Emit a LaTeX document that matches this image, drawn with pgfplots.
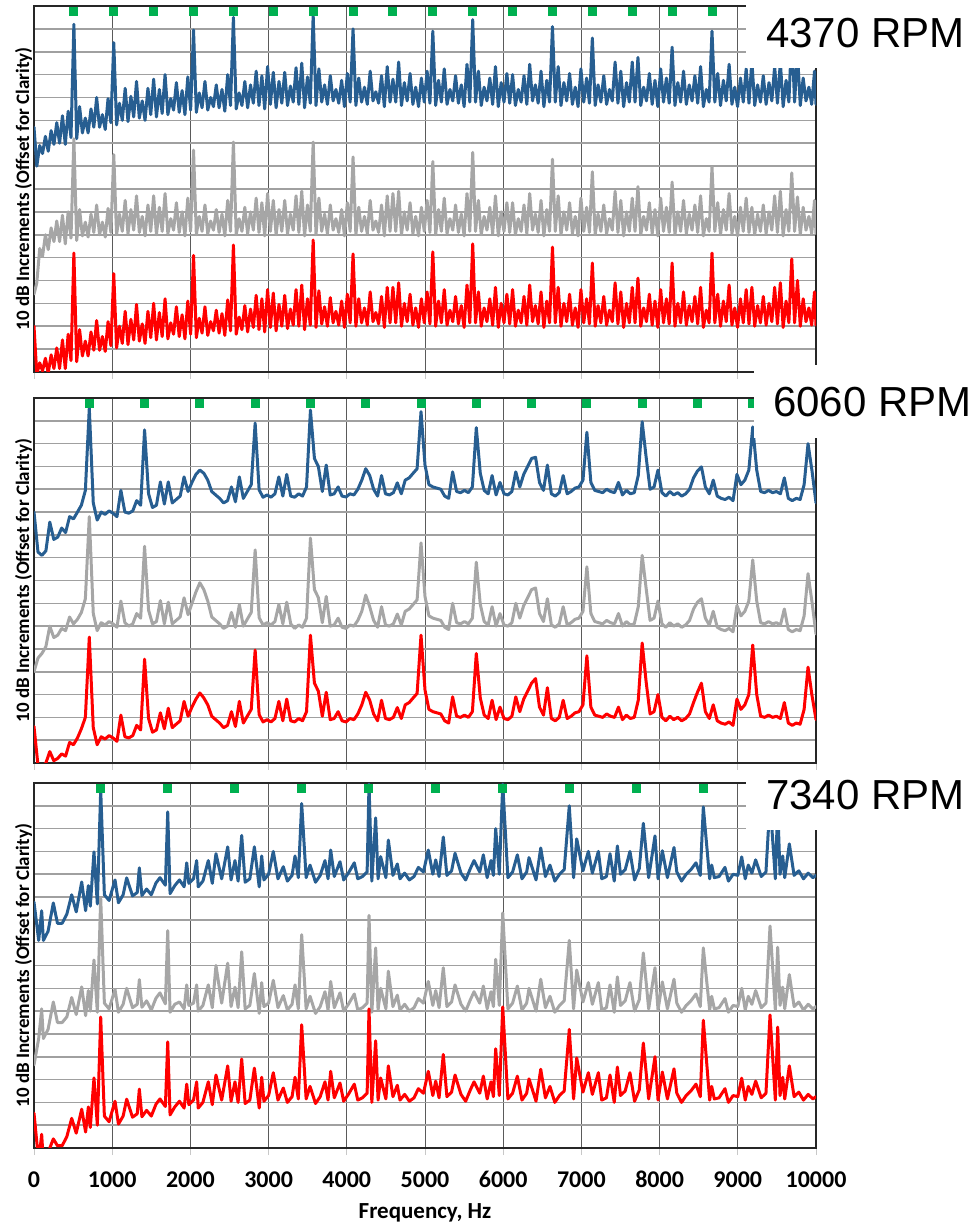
\documentclass[border=0pt]{standalone}
\usepackage{pgfplots}
\pgfplotsset{compat=1.18}
\usepackage{pgfplotstable}
\usepackage{fontspec}
\setmainfont{Carlito}
\newfontfamily\arialfont{Liberation Sans}
\definecolor{sblue}{RGB}{39,94,145}
\definecolor{sgray}{RGB}{166,166,166}
\definecolor{sred}{RGB}{255,0,0}
\definecolor{sgreen}{RGB}{0,176,80}
\definecolor{hgrid}{RGB}{160,160,160}
\definecolor{vgrid}{RGB}{90,90,90}
\definecolor{tickgray}{RGB}{200,200,200}

% 4370 RPM
\pgfplotstableread{
f B G R
0 107 34 20
36 90 39 -1
73 99 54 4
109 95.5 50.5 0.5
146 103 60 6
182 96.5 53.5 -0.5
219 105.5 63 7.5
255 99.5 57 1.5
291 109 66 10.5
327 100 57 1.5
364 112 68.5 14
400 99.5 56 1.5
437 114 70 16.5
473 102.5 58.5 5
510 152 102 52
546 102 57.5 4.5
583 116 71 18.5
619 104.5 59.5 7
656 111 65.5 13.5
692 104.5 59 7
729 115 69 17.5
765 107 61 9.5
801 120 73 22.5
838 107 60 9.5
874 112.5 65.5 15.5
911 106 59 9
947 119.5 71.5 22
983 109 61 11.5
1020 144 95 43
1056 108 60 10.5
1093 117.5 69 20
1129 110 61.5 12.5
1166 124 75 26.5
1202 109.5 60.5 12
1239 120.5 71 23
1275 111.5 62 14
1311 127 77 29.5
1347 111 61 13.5
1384 118.5 68 21
1420 110 59.5 12.5
1457 124 73 26.5
1493 112.5 61.5 15
1530 128 77 30
1566 111.5 60 14
1603 123.5 72 26
1639 113 61.5 15.5
1676 130 78 32
1712 112.5 60.5 14.5
1749 119.5 67 21.5
1785 114.5 62 16.5
1821 126.5 74 28.5
1857 113.5 61 15.5
1894 123 70 25
1930 112.5 59.5 14.5
1967 129 76 31
2003 114.5 61.5 16.5
2040 149.5 97 51
2076 113.5 60 15
2113 122 68 23.5
2149 115.5 61.5 17
2186 127 73 28.5
2222 114.5 60.5 16
2259 120 66 22
2295 116 62 18
2331 125.5 71 27
2367 115.5 61 17
2404 123.5 69 25.5
2440 114 59.5 16
2477 130 75 31.5
2513 116.5 61.5 18
2550 155 100.5 55.5
2586 115 60 16.5
2623 122 67 24
2659 116.5 61.5 18.5
2696 127 72 29
2732 115.5 60.5 17.5
2769 125.5 70 27.5
2805 117.5 62 19.5
2841 131.5 76 33.5
2877 116.5 61 18.5
2914 129.5 74 32
2950 115 59.5 17.5
2987 133.5 78 36
3023 117 61.5 19.5
3060 131 75 34.5
3096 115.5 60 18
3133 127 71 29.5
3169 117.5 61.5 20
3206 131 75 33.5
3242 116.5 60.5 19
3279 125 69 27.5
3315 118 62 20.5
3351 133 77 36
3387 117 61 20
3424 135 79 38
3460 115.5 59.5 18.5
3497 129 73 32
3533 117.5 61.5 20.5
3570 156 100.5 57.7
3606 116.5 60 19.5
3643 132.5 76 35.5
3679 118 61.5 21
3716 125.5 69 28.5
3752 117 60.5 20
3789 129.5 73 32.5
3825 118.5 62 21.5
3861 123.5 67 26.5
3897 117.5 61 20.5
3934 127.5 71 31
3970 116 59.5 19.5
4007 130.5 74 34
4043 118 61.5 21.5
4080 150 94 51.6
4116 116.5 60 20
4153 128.5 72 32
4189 118 61.5 21.5
4226 124.5 68 28
4262 117 60.5 20.5
4299 131.5 75 35
4335 118.5 62 22
4371 122.5 66 26
4407 117.5 61 21
4444 129.5 73 33
4480 116 59.5 19.5
4517 133.5 77 37
4553 118 61.5 21.5
4590 128 78 37
4626 118 61.5 21.5
4663 135.5 79 39
4699 116.5 60 20
4736 126.5 70 30
4772 118.5 62 22
4809 130.5 74 34
4845 117 60.5 20.5
4881 124.5 68 28
4917 116 59.5 19.5
4954 128.5 72 32
4990 118 61.5 21.5
5027 131.5 75 35
5063 117.5 61 21
5100 149 92 52.5
5136 116.5 60 20
5173 127.5 71 31
5209 118 61.5 21.5
5246 132.5 76 36
5282 117 60.5 20.5
5319 123.5 67 27
5355 118.5 62 22
5391 129.5 73 33
5427 117.5 61 21
5464 125.5 69 29
5500 116 59.5 19.5
5537 134.5 78 38
5573 118 61.5 21.5
5610 154 96 56
5646 118 61.5 21.5
5683 131.5 75 35
5719 116.5 60 20
5756 124.5 68 28
5792 118.5 62 22
5829 128.5 72 32
5865 117 60.5 20.5
5901 133.5 77 37
5937 116 59.5 19.5
5974 126.5 70 30
6010 118 61.5 21.5
6047 130.5 74 34
6083 117.5 61 21
6120 130 74 36
6156 116.5 60 20
6193 123.5 67 27
6229 118 61.5 21.5
6266 129.5 73 33
6302 117 60.5 20.5
6339 134.5 78 38
6375 118.5 62 22
6411 125.5 69 29
6447 117.5 61 21
6484 131.5 75 35
6520 116 59.5 19.5
6557 127.5 71 31
6593 118 61.5 21.5
6630 151 93 54.6
6666 118 61.5 21.5
6703 133.5 77 37
6739 116.5 60 20
6776 126.5 70 30
6812 118.5 62 22
6849 130.5 74 34
6885 117 60.5 20.5
6921 124.5 68 28
6957 116 59.5 19.5
6994 132.5 76 36
7030 118 61.5 21.5
7067 128.5 72 32
7103 117.5 61 21
7140 146 87.5 47.6
7176 116.5 60 20
7213 125.5 69 29
7249 118 61.5 21.5
7286 129.5 73 33
7322 117 60.5 20.5
7359 123.5 67 27
7395 118.5 62 22
7431 135.5 79 39
7467 117.5 61 21
7504 131.5 75 35
7540 116 59.5 19.5
7577 126.5 70 30
7613 118 61.5 21.5
7650 135.5 76 37
7686 118 61.5 21.5
7723 137.5 81 41
7759 116.5 60 20
7796 124.5 68 28
7832 118.5 62 22
7869 130.5 74 34
7905 117 60.5 20.5
7941 127.5 71 31
7977 116 59.5 19.5
8014 132.5 76 36
8050 118 61.5 21.5
8087 128.5 72 32
8123 117.5 61 21
8160 142 83 47.6
8196 116.5 60 20
8233 126.5 70 30
8269 118 61.5 21.5
8306 131.5 75 35
8342 117 60.5 20.5
8379 125.5 69 29
8415 118.5 62 22
8451 129.5 73 33
8487 117.5 61 21
8524 133.5 77 37
8560 116 59.5 19.5
8597 123.5 67 27
8633 118 61.5 21.5
8670 149 89.6 52
8706 118 61.5 21.5
8743 130.5 74 34
8779 116.5 60 20
8816 127.5 71 31
8852 118.5 62 22
8889 134.5 78 38
8925 117 60.5 20.5
8961 124.5 68 28
8997 116 59.5 19.5
9034 128.5 72 32
9070 118 61.5 21.5
9107 132.5 76 36
9143 117.5 61 21
9180 136 72 37
9216 116.5 60 20
9253 125.5 69 29
9289 118 61.5 21.5
9326 129.5 73 33
9362 117 60.5 20.5
9399 126.5 70 30
9435 118.5 62 22
9471 133.5 77 37
9507 117.5 61 21
9544 135.5 79 39
9580 116 59.5 19.5
9617 127.5 71 31
9653 118 61.5 21.5
9690 148 87 49.4
9726 118 61.5 21.5
9763 139.5 76.5 40
9799 116.5 60 20
9836 128.5 72 32
9872 118.5 62 22
9909 124.5 68 28
9945 117 60.5 20.5
9981 131.5 75 35
10000 117 60.5 20.5
}\pA

% 6060 RPM
\pgfplotstableread{
f B G R
0 110 40 16
51 92.5 46 -1
101 91 48 -2
152 93 51 0
202 105.6 60 5
253 98 55 1
303 99 56 2
354 103 59 4
404 101 58 3
455 108 64 9
505 107 61 8
556 110 63 11
606 113 66 15
657 119.5 72 20
707 155.6 108 55.2
758 114 65.5 15.5
808 106.5 58 8
859 110 61.5 11.5
909 109 60.5 10.5
960 110.5 62 12
1010 109.5 61 11
1061 108 59.5 9.5
1111 119.5 71 21
1162 110 61.5 11.5
1212 109.5 60 11
1263 110.5 61 12
1313 115 65.5 16.5
1364 113 63.5 14.5
1414 146 95 45.5
1465 118 67 19.5
1515 112 61 13.5
1566 113 62 14.5
1616 123.2 71.2 22
1667 113.5 61 15
1717 123.2 70.5 24
1768 114 61 15.5
1818 115.5 62.5 17
1869 117 64 18.5
1919 125.4 72.4 27
1970 119 65 20.5
2020 123 70 24.5
2071 126.5 75 28
2121 128.4 79 30.7
2172 127 76 28.5
2222 124 71 25.5
2273 119 64 20.5
2323 117.5 62.5 19
2374 116 61 17.5
2424 114 59 15.5
2475 115 60 16.5
2525 121 66 22.5
2576 114.5 59.5 16
2626 125.4 69.4 27
2677 116 60 17.5
2727 119 63 20.5
2778 122 66 23.5
2828 149 93.4 49.5
2879 119.7 63.7 21.2
2929 116.5 60.5 18
2980 117.5 61.5 19
3030 116.5 60.5 18
3081 118 62 19.5
3131 125.4 69.4 27
3182 117 61 18.5
3232 126.5 70.5 28
3283 117 61 18.5
3333 116.5 59 18
3384 118 60.5 19.5
3434 117 59.5 18.5
3485 121 63.5 22.5
3535 154.7 98.6 56
3586 133.5 76 35
3636 130 72.5 31.5
3687 119 61.5 20.5
3737 130.6 73 31
3788 117.5 60 19
3838 118 60.5 19.5
3889 121 63.5 22.5
3939 117 59.5 18.5
3990 116.6 59 18
4040 118 60.5 19.5
4091 117.5 60 19
4141 120 62.5 21.5
4192 124 66.5 25.5
4242 129 73.6 31
4293 126 68.5 27.5
4343 120 62.5 21.5
4394 117 59.5 18.5
4444 126 68.5 27.5
4495 118 60.5 19.5
4545 117.5 60 19
4596 118.5 61 20
4646 122.8 65.3 24.3
4697 118 60.5 19.5
4747 124 66.5 25.5
4798 125 67.5 26.5
4848 127 69.5 28.5
4899 129 71.5 30.5
4949 154 96.5 56
5000 130.6 73 32
5050 122 64.5 23.5
5101 121 63.5 22.5
5151 120.5 63 22
5202 120 62.5 21.5
5252 117 59.5 18.5
5303 116 58.5 17.5
5353 127.6 70 29
5404 119 61.5 20.5
5454 118.5 61 20
5505 119.5 62 21
5555 118.5 61 20
5606 121 63.5 22.5
5656 147 88 48
5707 127 69.5 28.5
5757 119.5 62 21
5808 118 60.5 19.5
5858 126 68.5 27.5
5909 117.5 60 19
5959 123 65.5 24.5
6010 118 60.5 19.5
6060 117.5 60 19
6111 119 61.5 20.5
6161 127.6 70 29
6212 121 63.5 22.5
6262 126.5 69 28
6313 130 72.5 31.5
6363 133.5 76 35
6414 134 76.7 37
6464 123 65.5 24.5
6515 119.5 62 21
6565 130.6 72 33
6616 118 60.5 19.5
6666 117 59.5 18.5
6717 118.5 61 20
6767 126 68.5 27.5
6818 118 60.5 19.5
6868 119 61.5 20.5
6919 120.5 63 22
6969 121 63.5 22.5
7020 124 66.5 25.5
7070 145 86 47
7121 123 65.5 24.5
7171 119.5 62 21
7222 119 61.5 20.5
7272 118.5 61 20
7323 120 62.5 21.5
7373 119 61.5 20.5
7424 118.5 61 20
7474 123 65.5 24.5
7525 117.5 60 19
7575 119.5 62 21
7626 118 60.5 19.5
7676 118.5 61 20
7727 126 68.5 27.5
7777 149.6 91 52.6
7828 134 76.5 35.5
7878 120 62.5 21.5
7929 121 63.5 22.5
7979 128.4 71 30
8030 118.5 61 20
8080 117 59.5 18.5
8131 119 61.5 20.5
8181 117.5 60 19
8232 118.5 61 20
8282 117 59.5 18.5
8333 118 60.5 19.5
8383 120 62.5 21.5
8434 125 67.5 26.5
8484 128 70.5 31
8535 129.8 72 35
8585 121 63.5 22.5
8636 118 60.5 19.5
8686 124 66.5 25.5
8737 117 59.5 18.5
8787 116 58.5 17.5
8838 115.5 58 17
8888 116.5 59 18
8939 115 57.5 16.5
8989 126.5 69 28
9040 122 64.5 23.5
9090 124 66.5 25.5
9141 128.4 71 30
9191 147.3 89 51.7
9242 128.4 71 30
9292 119 61.5 20.5
9343 118.5 61 20
9393 119.5 62 21
9444 118.5 61 20
9494 119 61.5 20.5
9545 118 60.5 19.5
9595 125 67.5 26.5
9646 116 58.5 17.5
9696 115 57.5 16.5
9747 116 58.5 17.5
9797 115.5 58 17
9848 122 64.5 23.5
9898 140 83 42
9949 128 70.5 29.5
10000 114 56.5 19
}\pB

% 7340 RPM
\pgfplotstableread{
f B G R
0 107.8 36.4 15.3
60 91 48 -6
98 104 61 6
120 91 48 -6
180 95 52 -2
247 107.4 64 4
300 98.5 55 1
360 98.5 55 1
420 102.5 57.5 5
482 111 66 13
540 103.5 58.5 6.5
610 116.6 70.6 17
660 104 58 7
695 115 69 18
720 106 60 9
767 129.8 82.4 30.7
810 107 59.5 10
853 157 109.6 57.4
900 111 63.5 14
960 108.5 61 11.5
1036 117.5 69.5 20.5
1080 107.5 59.5 10.5
1140 111 63 14
1185 118.4 70 21.4
1260 110.5 61.5 13.5
1320 112 63 15
1347 122.8 73.8 25.8
1380 110.7 61.7 13.7
1440 113.5 64.5 16.5
1500 111 60.5 14
1560 116.2 65.7 19.2
1611 118.5 68 21.5
1680 115.2 63.2 18.2
1710 147.3 95.3 46.5
1740 111.5 59.5 14.5
1800 115 63 18
1860 117.5 64 20.5
1920 114.5 61 17.5
1953 125 71.5 28
1980 116 62.5 19
2040 118 63.5 21
2080 126 71.5 29
2100 114.5 60 17.5
2160 117 62.5 20
2229 126 71.5 29
2280 116 61.5 19
2327 129 80 32
2400 118 63.5 21
2477 132 81 36
2520 117.5 62 20.5
2570 126 70.5 29
2610 117 61.5 20
2656 137 86 39
2700 116.5 61 19.5
2760 118 62.5 21
2818 132 76.5 35
2880 114.5 59 17.5
2912 128 72.5 31
2940 117.5 62 20.5
3000 120 63.5 23
3060 130 73.5 33
3120 118 61.5 21
3188 123.3 66.8 26.3
3240 117 60.5 20
3300 119.5 63 22.5
3338 128 71.5 31
3380 118.5 61 21.5
3423 151 93.5 54
3480 118.5 61 21.5
3530 124 66.5 27
3600 116.5 59 19.5
3660 119.5 62 22.5
3721 126 68.5 29
3760 118 60.5 21
3794 130.6 73 33.6
3840 119 61.5 22
3913 125.5 68 28.5
3960 117.5 60 20.5
4020 120.5 63 23.5
4096 125 67.5 28
4140 118 60.5 21
4200 119 61.5 22
4260 121 63.5 24
4284 159.5 102 61
4320 117 59.5 20
4369 144.7 87.7 47
4400 118 60.5 21
4433 127.7 70 30.7
4500 118.5 61 21.5
4531 135 77.5 36
4590 119.5 62 22.5
4646 124.5 67 27.5
4680 118 60.5 21
4740 120.5 63 23.5
4800 117.5 60 20.5
4860 119 61.5 22
4915 123 65.5 26
4980 121 63.5 24
5042 130.6 73 33.6
5100 120 62.5 23
5137 126.3 69 29.3
5180 119 61.5 22
5234 136.3 79 41
5280 119.5 62 22.5
5340 121.5 64 24.5
5384 129.2 71.5 32
5460 120.5 63 23.5
5520 117.5 60 20.5
5580 122.5 65 25.5
5627 126 68.5 29
5700 121 63.5 24
5746 128.5 71 31.5
5795 118.5 61 21.5
5844 126 68.5 29
5875 119.5 62 22.5
5904 140 82.7 43.5
5950 120 62.5 23
5994 159.5 103 61.8
6060 118.5 61 21.5
6120 121 63.5 24
6181 128.5 71 31.5
6240 118 60.5 21
6300 121 63.5 24
6330 127.3 70 30.3
6420 117.5 60 20.5
6480 131.5 74 34.5
6540 119 61.5 22
6598 124 66.5 27
6660 117 59.5 20
6720 120 62.5 23
6780 122 64.5 25
6845 150 91 52
6900 118.5 61 21.5
6940 135.5 78 39.5
7020 121.5 64 24.5
7089 130 72.5 33
7140 120.5 63 23.5
7217 130 72.5 33
7260 118 60.5 21
7320 119 61.5 22
7366 129 71.5 32
7420 117 59.5 20
7460 132.4 75 35.5
7500 120 62.5 23
7560 122 64.5 25
7621 130 72.5 33
7680 117.5 60 20.5
7740 122.5 65 25.5
7792 142.3 85.5 46
7860 118.5 61 21.5
7941 136.8 79 40
7980 118 60.5 21
8035 130.3 72.8 33.3
8100 118.5 61 21.5
8184 131.7 74 34.7
8220 121 63.5 24
8280 117 59.5 20
8340 120 62.5 23
8400 122 64.5 25
8465 125 67.5 28
8520 119.5 62 22.5
8559 149.5 87.7 56
8640 118 60.5 21
8666 124 66.5 27
8700 118.5 61 21.5
8760 119 61.5 22
8836 123 65.5 26
8880 117 59.5 20
8940 120 62.5 23
9000 119.5 62 22.5
9050 127.6 70 30.6
9095 118 60.5 21
9134 124 66.5 27
9180 120.5 63 23.5
9228 126.3 69 29.3
9300 119 61.5 22
9360 121 63.5 24
9412 152 97.3 58.3
9480 118 60.5 21
9510 150 88 53
9540 120 62.5 23
9574 128 70.5 31
9600 118.5 61 21.5
9659 133.3 76 36
9720 119.5 62 22.5
9780 121.5 64 24.5
9840 118 60.5 21
9900 120.5 63 23.5
9960 118.5 61 21.5
10000 119.5 62 22.5
}\pC

\pgfplotsset{
  spec/.style={
    scale only axis, width=782pt,
    xmin=0, xmax=10000, ymin=0, ymax=160,
    xtick={0,1000,2000,3000,4000,5000,6000,7000,8000,9000,10000},
    ytick={0,10,...,160},
    yticklabels={},
    ytick style={draw=none},
    xmajorgrids, ymajorgrids,
    x grid style={draw=vgrid, line width=0.9pt},
    y grid style={draw=hgrid, line width=1.6pt},
    tick align=outside,
    xtick pos=left, ytick pos=left,
    major tick length=7pt,
    xtick style={draw=tickgray, line width=1pt},
    axis line style={draw=black!85, line width=1.8pt},
    scaled x ticks=false,
    clip=true,
  },
  lb/.style={draw=sblue, line width=3pt, no marks, line join=round, line cap=round},
  lg/.style={draw=sgray, line width=3pt, no marks, line join=round, line cap=round},
  lr/.style={draw=sred, line width=3pt, no marks, line join=round, line cap=round},
  gm/.style={only marks, mark=square*, mark size=4pt, mark options={fill=sgreen, draw=sgreen, line width=0pt}},
}

\begin{document}
\begin{tikzpicture}[x=1pt,y=1pt]
\useasboundingbox (0pt,0pt) rectangle (971pt,1223pt);

\begin{axis}[spec, height=366pt, at={(34pt,851pt)}, anchor=south west, xticklabels={}]
\addplot[lb] table[x=f,y=B]{\pA};
\addplot[lg] table[x=f,y=G]{\pA};
\addplot[lr] table[x=f,y=R]{\pA};
\addplot[gm] coordinates {(510,157.8) (1020,157.8) (1530,157.8) (2040,157.8) (2550,157.8) (3060,157.8) (3570,157.8) (4080,157.8) (4590,157.8) (5100,157.8) (5610,157.8) (6120,157.8) (6630,157.8) (7140,157.8) (7650,157.8) (8160,157.8) (8670,157.8) (9180,157.8) (9690,157.8)};
\end{axis}

\begin{axis}[spec, height=365pt, at={(34pt,460pt)}, anchor=south west, xticklabels={}]
\addplot[lb] table[x=f,y=B]{\pB};
\addplot[lg] table[x=f,y=G]{\pB};
\addplot[lr] table[x=f,y=R]{\pB};
\addplot[gm] coordinates {(707,157.8) (1414,157.8) (2121,157.8) (2828,157.8) (3535,157.8) (4242,157.8) (4949,157.8) (5656,157.8) (6363,157.8) (7070,157.8) (7777,157.8) (8484,157.8) (9191,157.8)};
\end{axis}

\begin{axis}[spec, height=365pt, at={(34pt,75pt)}, anchor=south west,
  xticklabels={0,1000,2000,3000,4000,5000,6000,7000,8000,9000,10000},
  xticklabel style={font=\fontsize{24}{27}\selectfont\bfseries, anchor=base, yshift=-32pt}]
\addplot[lb] table[x=f,y=B]{\pC};
\addplot[lg] table[x=f,y=G]{\pC};
\addplot[lr] table[x=f,y=R]{\pC};
\addplot[gm] coordinates {(856,157.8) (1713,157.8) (2569,157.8) (3425,157.8) (4282,157.8) (5138,157.8) (5994,157.8) (6850,157.8) (7707,157.8) (8563,157.8) (9419,157.8)};
\end{axis}

% y labels
\foreach \yc in {1034,642.5,257.5}{
  \node[rotate=90, font=\fontsize{19}{21}\selectfont\bfseries, inner sep=0pt] at (23.5pt,\yc pt) {10 dB Increments (Offset for Clarity)};
}
% x label
\node[anchor=base, font=\fontsize{23}{26}\selectfont\bfseries, inner sep=0pt] at (425pt,5pt) {Frequency, Hz};

% RPM labels
\fill[white] (746pt,1155pt) rectangle (971pt,1223pt);
\node[anchor=base west, inner sep=0pt, font=\arialfont\fontsize{42}{48}\selectfont] at (766pt,1175pt) {4370 RPM};
\fill[white] (754pt,785pt) rectangle (971pt,858pt);
\node[anchor=base west, inner sep=0pt, font=\arialfont\fontsize{42}{48}\selectfont] at (773pt,806pt) {6060 RPM};
\fill[white] (746pt,393pt) rectangle (971pt,453pt);
\node[anchor=base west, inner sep=0pt, font=\arialfont\fontsize{42}{48}\selectfont] at (766pt,413pt) {7340 RPM};
\end{tikzpicture}
\end{document}
